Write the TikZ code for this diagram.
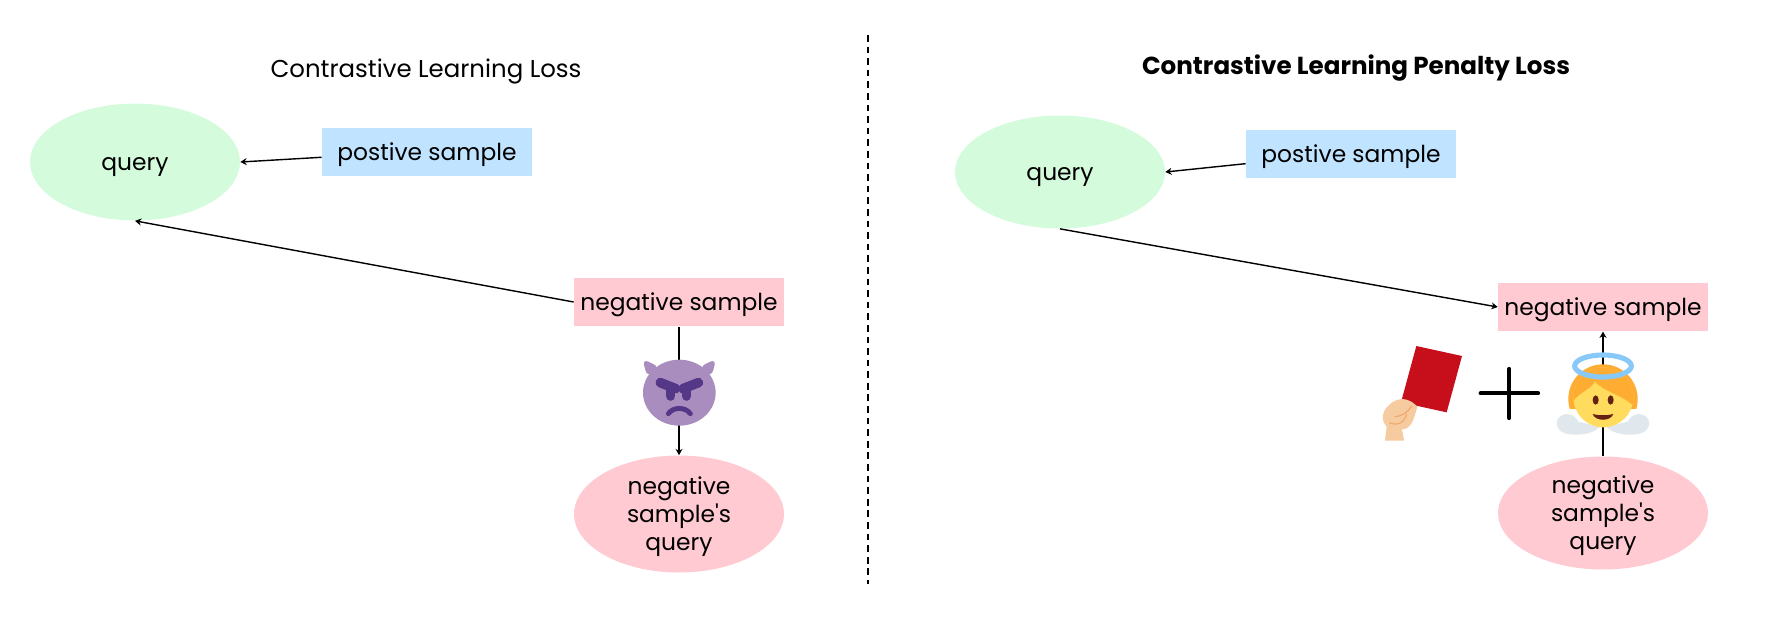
\documentclass[tikz,border=0pt]{standalone}
\usepackage{fontspec}
\setmainfont{Poppins}
\usepackage{xcolor}
\usetikzlibrary{shapes.geometric, arrows.meta}
\definecolor{querygreen}{HTML}{D4FCDC}
\definecolor{posblue}{HTML}{C0E4FF}
\definecolor{negpink}{HTML}{FFCAD1}
\definecolor{devilbody}{HTML}{AA8DBF}
\definecolor{devilface}{HTML}{553788}
\definecolor{cardred}{HTML}{C60F1B}
\definecolor{handskin}{HTML}{F7CBA0}
\definecolor{handline}{HTML}{F0A564}
\definecolor{wingcol}{HTML}{E1E8ED}
\definecolor{haircol}{HTML}{FFAC33}
\definecolor{facecol}{HTML}{FFDC5D}
\definecolor{eyecol}{HTML}{662113}
\definecolor{halocol}{HTML}{88C9F9}
\newcommand{\straightquote}{\XeTeXglyph\XeTeXcharglyph"27 }

\begin{document}
\begin{tikzpicture}[
x=0.02cm, y=-0.02cm,
bodytext/.style={font=\fontsize{13.3}{15.8}\selectfont, text=black, align=center, inner sep=0pt},
oneline/.style={text height=12.4pt, text depth=2.8pt},
querynode/.style={ellipse, bodytext, oneline, fill=querygreen, minimum width=4.2cm, minimum height=2.34cm},
posnode/.style={rectangle, bodytext, oneline, fill=posblue, minimum width=4.2cm, minimum height=0.97cm},
negnode/.style={rectangle, bodytext, oneline, fill=negpink, minimum width=4.2cm, minimum height=0.97cm},
negquery/.style={ellipse, bodytext, text depth=0.2pt, fill=negpink, minimum width=4.2cm, minimum height=2.34cm},
titlenode/.style={font=\fontsize{13.9}{16}\selectfont, text=black, inner sep=0pt},
link/.style={-{Stealth[length=3.6pt,width=4pt,inset=1.2pt]}, black, line width=0.8pt},
emojiscope/.style={x=0.02cm/3, y=-0.02cm/3},
]
\useasboundingbox (0,0) rectangle (1782,627);

%Nodes
\node[titlenode] (title_left) at (426,71) {Contrastive Learning Loss};
\node[titlenode, font=\fontsize{14}{16}\selectfont\bfseries] (title_right) at (1356,68) {Contrastive Learning Penalty Loss};

\node[querynode] (query_left) at (135,162) {query};
\node[posnode] (pos_left) at (427,152) {postive sample};
\node[negnode] (neg_left) at (679,302) {negative sample};
\node[negquery] (negquery_left) at (679,514) {negative\\sample\straightquote s\\query};

\node[querynode, minimum height=2.26cm] (query_right) at (1060,172) {query};
\node[posnode] (pos_right) at (1351,154) {postive sample};
\node[negnode] (neg_right) at (1603,307) {negative sample};
\node[negquery, minimum height=2.26cm] (negquery_right) at (1603,513) {negative\\sample\straightquote s\\query};

\coordinate (div_top) at (868,35);
\coordinate (div_bottom) at (868,584);

%Lines
\draw[black, dash pattern=on 3.8pt off 2.8pt, line width=0.6pt] (div_top) -- (div_bottom);
\draw[link] ([yshift=-3pt]pos_left.west) -- (query_left.east);
\draw[link] (neg_left.west) -- (query_left.south);
\draw[link] (neg_left.south) -- (negquery_left.north);
\draw[link] ([yshift=-5.5pt]pos_right.west) -- (query_right.east);
\draw[link] (query_right.south) -- (neg_right.west);
\draw[link] (negquery_right.north) -- (neg_right.south);

%Devil
\begin{scope}[shift={(560,260)}, emojiscope]
\fill[devilbody] (358,398) ellipse (109 and 99);
\fill[devilbody, rounded corners=4pt] (262,352) -- (247,296) -- (300,322) -- cycle;
\fill[devilbody, rounded corners=4pt] (454,352) -- (469,296) -- (416,322) -- cycle;
\draw[line width=5.5pt, line cap=round, devilface] (301,368) -- (347,386);
\draw[line width=5.5pt, line cap=round, devilface] (415,368) -- (369,386);
\draw[line width=5.5pt, line cap=round, devilface] (332,386) -- (332,408);
\draw[line width=5.5pt, line cap=round, devilface] (380,386) -- (380,408);
\draw[line width=2.8pt, line cap=round, devilface] (325,461) .. controls (340,440) and (376,440) .. (391,461);
\end{scope}

%Card, plus and angel
\begin{scope}[shift={(1340,270)}, emojiscope]
\fill[cardred] (229,228) -- (366,258) -- (320,427) -- (183,397) -- cycle;
\fill[handskin] (135,512) -- (192,512) -- (186,478) .. controls (215,478) and (222,445) .. (232,410) .. controls (215,392) and (190,378) .. (160,395) .. controls (122,420) and (122,450) .. (140,470) -- cycle;
\draw[line width=0.6pt, handline] (148,458) .. controls (175,470) and (195,455) .. (200,432) (165,440) .. controls (185,440) and (205,425) .. (215,408);
\draw[line width=2.4pt, line cap=round] (422,370) -- (594,370);
\draw[line width=2.4pt, line cap=round] (508,297) -- (508,444);
\fill[wingcol] (780,470) .. controls (760,495) and (700,500) .. (670,488) .. controls (640,475) and (645,435) .. (680,432) .. controls (700,432) and (710,445) .. (715,455) -- cycle;
\fill[wingcol] (798,470) .. controls (818,495) and (878,500) .. (908,488) .. controls (938,475) and (933,435) .. (898,432) .. controls (878,432) and (868,445) .. (863,455) -- cycle;
\begin{scope}
\clip (680,270) rectangle (900,415);
\fill[haircol] (789,387) circle (104);
\end{scope}
\fill[facecol] (790,382) circle (90);
\begin{scope}
\clip (790,382) circle (90);
\fill[haircol] (698,395) .. controls (720,365) and (750,360) .. (765,335) .. controls (790,365) and (850,375) .. (885,412) -- (885,270) -- (695,270) -- cycle;
\end{scope}
\fill[eyecol] (767,390) ellipse (9 and 14);
\fill[eyecol] (812,390) ellipse (9 and 14);
\fill[eyecol] (758,432) .. controls (775,437) and (803,437) .. (820,432) .. controls (812,455) and (766,455) .. (758,432) -- cycle;
\draw[line width=2.9pt, halocol] (789,288) ellipse (85 and 33);
\end{scope}

\end{tikzpicture}
\end{document}
